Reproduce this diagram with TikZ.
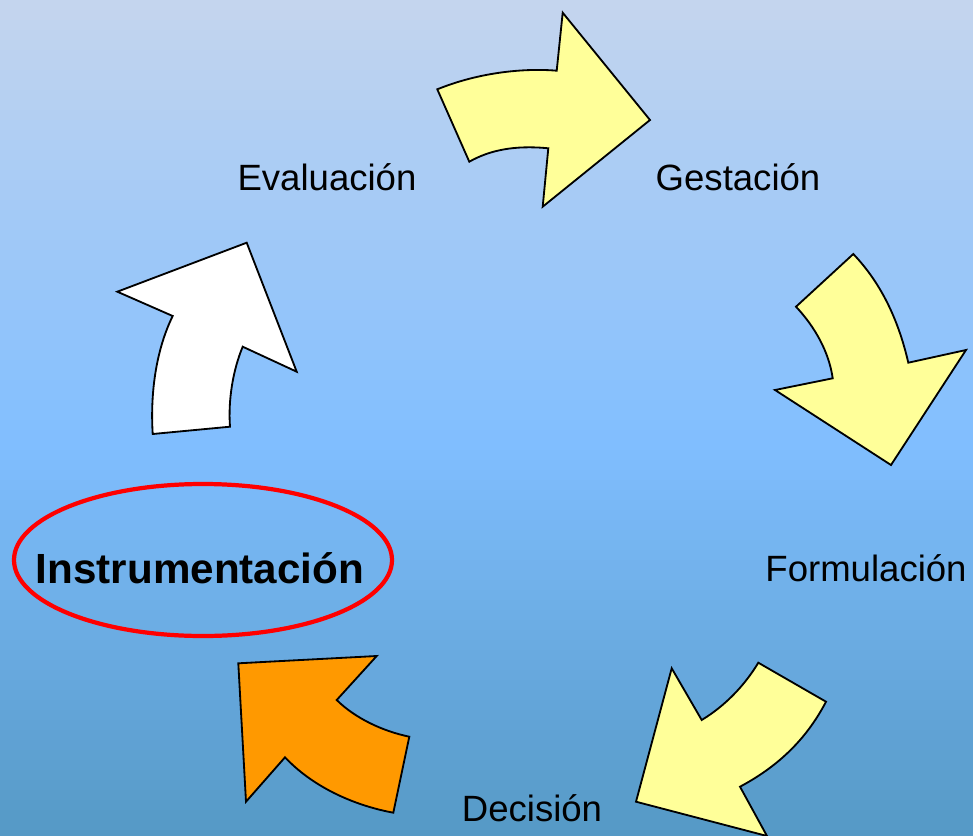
\documentclass[tikz,border=0pt]{standalone}
\usepackage{fontspec}
\setmainfont{Liberation Sans}
\definecolor{cycletop}{RGB}{196, 213, 238}
\definecolor{cyclemid}{RGB}{128, 190, 255}
\definecolor{cyclebot}{RGB}{84, 152, 196}
\definecolor{cycleyellow}{RGB}{255, 255, 153}
\definecolor{cycleorange}{RGB}{255, 153, 0}
\definecolor{cyclered}{RGB}{255, 0, 0}

\begin{document}
\begin{tikzpicture}[x=0.025cm, y=-0.025cm]
% Background
\clip (0,0) rectangle (973,835);
\foreach \i in {0,...,83}{
  \pgfmathsetmacro{\yy}{\i*10}
  \ifnum\i<44
    \pgfmathsetmacro{\pc}{\i*100/44}
    \fill[cyclemid!\pc!cycletop] (0,\yy) rectangle (973,\yy+10.6);
  \else
    \pgfmathsetmacro{\pc}{(\i-44)*100/40}
    \fill[cyclebot!\pc!cyclemid] (0,\yy) rectangle (973,\yy+10.6);
  \fi
}

% Stage labels
\node[font=\fontsize{26}{30}\selectfont] (eval) at (327,177) {Evaluación};
\node[font=\fontsize{26}{30}\selectfont] (gest) at (738,177) {Gestación};
\node[font=\fontsize{26}{30}\selectfont] (form) at (866,568) {Formulación};
\node[font=\fontsize{26}{30}\selectfont] (deci) at (532,808) {Decisión};

% Current stage
\node[font=\fontsize{30}{36}\selectfont\bfseries] (instr) at (200,568) {Instrumentación};
\draw[cyclered, line width=3pt] (203,560) ellipse [x radius=189, y radius=76];

% Arrow: Evaluacion -> Gestacion
\draw[fill=cycleyellow, line width=1.3pt, line join=miter] (437.3,89.3) .. controls (480,72) and (525,68) .. (556.7,70.7)
  -- (562.7,12.7) -- (650,120) -- (542.7,206.7) -- (548.3,148.3)
  .. controls (515,145) and (490,150) .. (469.3,161.7) -- cycle;

% Arrow: Gestacion -> Formulacion
\draw[fill=cycleyellow, line width=1.3pt, line join=miter] (853.3,254) -- (796,306.7)
  .. controls (815,327) and (829,352) .. (832.7,378.3)
  -- (775,390) -- (891,465) -- (966,350) -- (908.3,362.7)
  .. controls (898,318) and (880,282) .. cycle;

% Arrow: Formulacion -> Decision
\draw[fill=cycleyellow, line width=1.3pt, line join=miter] (758.3,662.7) -- (826,701.7)
  .. controls (805,742) and (775,768) .. (740,786.7)
  -- (767,836) -- (636,801.7) -- (671.7,668.3) -- (701.7,720)
  .. controls (725,706) and (745,685) .. cycle;

% Arrow: Decision -> Instrumentacion
\draw[fill=cycleorange, line width=1.3pt, line join=miter] (238.3,663.3) -- (376.7,656) -- (336.7,700)
  .. controls (355,718) and (382,731) .. (409.3,736.7)
  -- (393.3,812.7)
  .. controls (352,805) and (312,786) .. (285,757.3)
  -- (246,801.7) -- cycle;

% Arrow: Instrumentacion -> Evaluacion
\draw[fill=white, line width=1.3pt, line join=miter] (246.7,242.7) -- (296.7,371.7) -- (242.7,346.7)
  .. controls (233,370) and (228,400) .. (230,426.7)
  -- (152.7,434)
  .. controls (150,390) and (157,348) .. (172.7,316)
  -- (117.3,291.7) -- cycle;
\end{tikzpicture}
\end{document}
